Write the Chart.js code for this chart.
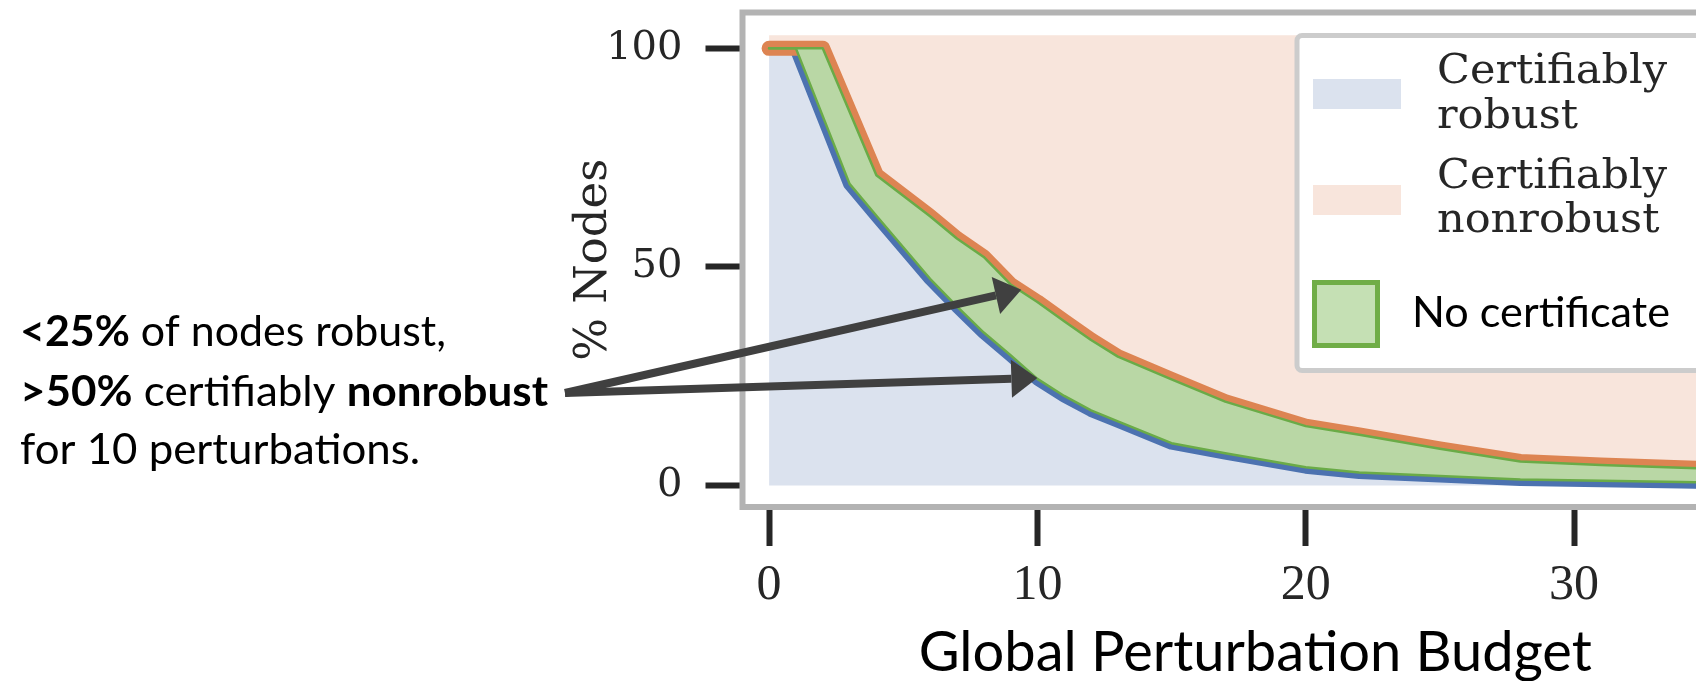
<!DOCTYPE html>
<html>
<head>
<meta charset="utf-8">
<script src="https://cdn.jsdelivr.net/npm/chart.js@4.4.1/dist/chart.umd.min.js"></script>
<style>
  html, body { margin: 0; padding: 0; background: #fff; overflow: hidden; }
  #wrap { width: 1768px; height: 681px; }
</style>
</head>
<body>
<div id="wrap"><canvas id="certChart" width="1768" height="681"></canvas></div>
<script>
// % of nodes vs. global perturbation budget
const budget     = [0, 1, 2, 3, 4, 5, 6, 7, 8, 9, 10, 11, 12, 13, 15, 17, 20, 22, 25, 28, 31, 34, 36];
const robust     = [100, 100, 84.5, 69, 61.7, 54.5, 47.3, 41, 35, 29.8, 24.4, 20.5, 17.2, 14.7, 9.7, 7.4, 4.2, 3, 2.2, 1.4, 1.1, 0.8, 0.6];
const notNonrob  = [100, 100, 100, 85.5, 71, 66.3, 61.6, 56.5, 52.3, 46, 42, 37.6, 33.3, 29.5, 24.3, 19.2, 13.6, 11.6, 8.4, 5.5, 4.7, 4.1, 3.7];
const xTicks = [0, 10, 20, 30];
const yTicks = [0, 50, 100];

const BLUE = '#4c72b0', BLUE_FILL = '#dbe2ee';
const ORANGE = '#dd8452', PINK_FILL = '#f8e5dc';
const GREEN = '#6aab47', GREEN_FILL = '#b9d7a5';
const TICK = '#262626';

const pts = ys => budget.map((x, i) => ({ x: x, y: ys[i] }));

// draws text split into bold/normal parts, squeezed to a given width
function fitText(c, parts, family, size, x, y, width) {
  let natural = 0;
  parts.forEach(p => { c.font = (p[1] ? 'bold ' : '') + size + 'px "' + family + '"'; natural += c.measureText(p[0]).width; });
  c.save();
  c.translate(x, y);
  c.scale(width / natural, 1);
  let cx = 0;
  parts.forEach(p => {
    c.font = (p[1] ? 'bold ' : '') + size + 'px "' + family + '"';
    c.fillText(p[0], cx, 0);
    cx += c.measureText(p[0]).width;
  });
  c.restore();
}

function arrow(c, x0, y0, x1, y1) {
  const a = Math.atan2(y1 - y0, x1 - x0);
  const hl = 26, hw = 19;
  const bx = x1 - hl * Math.cos(a), by = y1 - hl * Math.sin(a);
  c.beginPath(); c.moveTo(x0, y0); c.lineTo(bx, by); c.stroke();
  c.beginPath();
  c.moveTo(x1, y1);
  c.lineTo(bx + hw * Math.sin(a), by - hw * Math.cos(a));
  c.lineTo(bx - hw * Math.sin(a), by + hw * Math.cos(a));
  c.closePath(); c.fill();
}

const decor = {
  id: 'decor',
  afterDatasetsDraw(chart) {
    const c = chart.ctx, a = chart.chartArea;
    c.save();
    c.strokeStyle = '#b3b3b3';
    c.lineWidth = 6;
    c.strokeRect(a.left, a.top, a.right - a.left, a.bottom - a.top);
    c.restore();
  },
  afterDraw(chart) {
    const c = chart.ctx;
    const xs = chart.scales.x, ys = chart.scales.y;
    c.save();

    // legend box
    c.fillStyle = '#fff';
    c.strokeStyle = '#cccccc';
    c.lineWidth = 5;
    c.beginPath();
    c.roundRect(1297, 35.5, 470, 335, 5);
    c.fill(); c.stroke();
    c.fillStyle = BLUE_FILL; c.fillRect(1313, 79, 88, 30);
    c.fillStyle = PINK_FILL; c.fillRect(1313, 185, 88, 30);
    c.fillStyle = '#c5e0b4'; c.fillRect(1314.5, 282.5, 63, 63);
    c.strokeStyle = '#70ad47'; c.lineWidth = 5; c.strokeRect(1314.5, 282.5, 63, 63);

    c.fillStyle = TICK;
    c.textBaseline = 'alphabetic';
    c.font = '41px "DejaVu Serif"';
    const k = 230 / c.measureText('Certifiably').width;
    [['Certifiably', 82.7], ['robust', 127.7], ['Certifiably', 188.3], ['nonrobust', 232.3]].forEach(t => {
      c.save(); c.translate(1437, t[1]); c.scale(k, 1); c.fillText(t[0], 0, 0); c.restore();
    });
    c.fillStyle = '#000';
    fitText(c, [['No certificate', false]], 'Lato', 42, 1412, 326.7, 258);

    // annotation on the left
    fitText(c, [['<25%', true], [' of nodes robust,', false]], 'Lato', 42, 20, 346, 426);
    fitText(c, [['>50%', true], [' certifiably ', false], ['nonrobust', true]], 'Lato', 42, 20, 406, 528);
    fitText(c, [['for 10 perturbations.', false]], 'Lato', 42, 20, 464, 400);

    c.strokeStyle = '#404040';
    c.fillStyle = '#404040';
    c.lineWidth = 8;
    arrow(c, 565, 393, xs.getPixelForValue(9.4), ys.getPixelForValue(44.8));
    arrow(c, 565, 393, xs.getPixelForValue(10), ys.getPixelForValue(24.6));
    c.restore();
  }
};

const tickGrid = len => ({
  display: true, drawOnChartArea: false, drawTicks: true,
  tickLength: len, tickWidth: 6, tickColor: TICK
});

new Chart(document.getElementById('certChart').getContext('2d'), {
  type: 'line',
  data: {
    datasets: [
      { label: 'No certificate', data: pts(robust), borderColor: GREEN, borderWidth: 2.5, fill: false, order: 1 },
      { label: 'No certificate', data: pts(notNonrob), borderColor: GREEN, borderWidth: 2.5,
        backgroundColor: GREEN_FILL, fill: 3, order: 2 },
      { label: 'Certifiably nonrobust', data: pts(notNonrob), borderColor: ORANGE, borderWidth: 15,
        backgroundColor: PINK_FILL, fill: { value: 103 }, order: 3 },
      { label: 'Certifiably robust', data: pts(robust), borderColor: BLUE, borderWidth: 13,
        backgroundColor: BLUE_FILL, fill: 'origin', order: 4 }
    ]
  },
  options: {
    responsive: false,
    animation: false,
    layout: { padding: { left: 560, right: 0, top: 12.5, bottom: 0 } },
    elements: {
      point: { radius: 0 },
      line: { tension: 0, borderCapStyle: 'round', borderJoinStyle: 'round' }
    },
    plugins: { legend: { display: false }, tooltip: { enabled: false } },
    scales: {
      x: {
        type: 'linear', min: -0.99, max: 37.23,
        afterBuildTicks: s => { s.ticks = xTicks.map(v => ({ value: v })); },
        afterFit: s => { s.height = 174; s.paddingLeft = 0; s.paddingRight = 0; },
        grid: tickGrid(39),
        border: { display: false },
        ticks: { padding: 10, color: TICK, font: { family: 'Liberation Serif', size: 50 } },
        title: { display: true, text: 'Global Perturbation Budget', color: '#000',
                 font: { family: 'Lato', size: 56, lineHeight: 1 }, padding: { top: 0, bottom: 0 } }
      },
      y: {
        min: -4.9, max: 108.2,
        afterBuildTicks: s => { s.ticks = yTicks.map(v => ({ value: v })); },
        afterFit: s => { s.width = 182.5; s.paddingTop = 0; s.paddingBottom = 0; },
        grid: tickGrid(37),
        border: { display: false },
        ticks: { padding: 23, color: TICK, font: { family: 'DejaVu Serif', size: 40 } },
        title: { display: true, text: '% Nodes', color: TICK,
                 font: { family: 'DejaVu Serif', size: 45, lineHeight: 1 }, padding: { top: 11.5, bottom: 0 } }
      }
    }
  },
  plugins: [decor]
});
</script>
</body>
</html>
